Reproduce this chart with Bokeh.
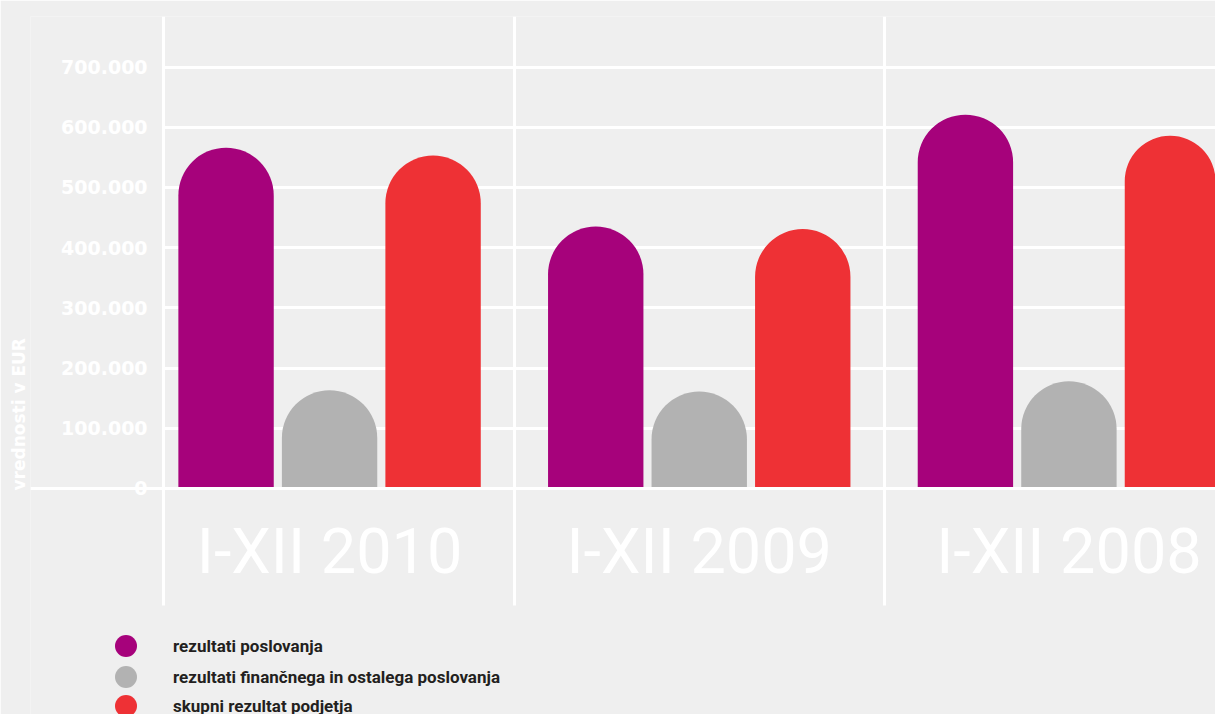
from bokeh.plotting import figure
from bokeh.models import (ColumnDataSource, Range1d, FixedTicker, Legend, LegendItem, Title)
from bokeh.embed import file_html
from bokeh.resources import INLINE
import numpy as np

# ---------------- data ----------------
periods = ["I-XII 2010", "I-XII 2009", "I-XII 2008"]
series_names = ["rezultati poslovanja",
                "rezultati finančnega in ostalega poslovanja",
                "skupni rezultat podjetja"]
series_colors = ["#a6027b", "#b2b2b2", "#ee3135"]
rezultati_poslovanja = [566000, 435000, 621000]
rezultati_financnega = [163000, 161000, 178000]
skupni_rezultat = [553000, 431000, 586000]
y_ticks = [0, 100000, 200000, 300000, 400000, 500000, 600000, 700000]
y_tick_labels = ["0", "100.000", "200.000", "300.000", "400.000",
                 "500.000", "600.000", "700.000"]
y_axis_title = "vrednosti v EUR"

# ---------------- layout constants ----------------
BG = "#efefef"
slot = 0.28
bar_w = 0.258
x_start, x_end = -0.809, 2.3965
x_axis_pos = -0.449              # where the vertical value axis sits
y_start, y_end = -375400, 784000
y_sep_bottom = -194400           # lower end of the vertical separators
separators = [0.5, 1.5]
legend_y = [41, 10, -19]         # screen offsets of the three legend rows

p = figure(width=1215, height=714, output_backend="svg", toolbar_location=None,
           title=None, x_range=Range1d(x_start, x_end), y_range=Range1d(y_start, y_end),
           min_border_left=30, min_border_right=0, min_border_top=16,
           min_border_bottom=0)
p.background_fill_color = BG
p.border_fill_color = BG
p.outline_line_color = None

values = [rezultati_poslovanja, rezultati_financnega, skupni_rezultat]
centers = np.arange(len(periods))
for j, (vals, col, name) in enumerate(zip(values, series_colors, series_names)):
    src = ColumnDataSource(dict(x=centers + (j - 1) * slot, top=vals))
    p.vbar(x="x", top="top", bottom=0, width=bar_w, source=src,
           fill_color=col, line_color=None, border_radius=(48, 48, 0, 0))
    proxy = p.scatter(x="x", y="top", source=src, marker="circle", size=22,
                      fill_color=col, line_color=None, visible=False)
    legend = Legend(items=[LegendItem(label=name, renderers=[proxy])],
                    location=(68, legend_y[j]), orientation="vertical",
                    glyph_width=55, glyph_height=55, spacing=0, padding=0, margin=0,
                    label_standoff=20, label_text_font="Roboto",
                    label_text_font_size="17px", label_text_font_style="bold",
                    label_text_color="#231f20", border_line_color=None,
                    background_fill_alpha=0)
    p.add_layout(legend, "center")

# grids
p.ygrid.ticker = FixedTicker(ticks=y_ticks[1:])
p.ygrid.grid_line_color = "white"
p.ygrid.grid_line_width = 3
p.ygrid.cross_bounds = (x_axis_pos, x_end)
p.xgrid.ticker = FixedTicker(ticks=separators)
p.xgrid.grid_line_color = "white"
p.xgrid.grid_line_width = 3
p.xgrid.cross_bounds = (y_sep_bottom, y_end)

# y axis (fixed inside the frame)
yax = p.yaxis[0]
yax.fixed_location = x_axis_pos
yax.bounds = (y_sep_bottom, y_end)
yax.ticker = FixedTicker(ticks=y_ticks)
yax.major_label_overrides = {t: l for t, l in zip(y_ticks, y_tick_labels)}
yax.axis_line_color = "white"
yax.axis_line_width = 3
yax.major_tick_line_color = None
yax.minor_tick_line_color = None
yax.major_label_standoff = 10
yax.major_label_text_color = "white"
yax.major_label_text_font = "DejaVu Sans"
yax.major_label_text_font_style = "bold"
yax.major_label_text_font_size = "19px"

# x axis (fixed at value 0 -> baseline)
xax = p.xaxis[0]
xax.fixed_location = 0
xax.ticker = FixedTicker(ticks=list(centers))
xax.major_label_overrides = {int(i): lab for i, lab in zip(centers, periods)}
xax.axis_line_color = "white"
xax.axis_line_width = 3
xax.major_tick_line_color = None
xax.minor_tick_line_color = None
xax.major_label_standoff = 21
xax.major_label_text_color = "white"
xax.major_label_text_font = "Roboto"
xax.major_label_text_font_size = "63px"

# vertical y-axis title on the left
p.add_layout(Title(text=y_axis_title, align="left", text_color="white",
                   text_font="DejaVu Sans", text_font_style="bold",
                   text_font_size="17px", standoff=4, offset=224), "left")

open("out.html", "w").write(file_html(p, INLINE))
